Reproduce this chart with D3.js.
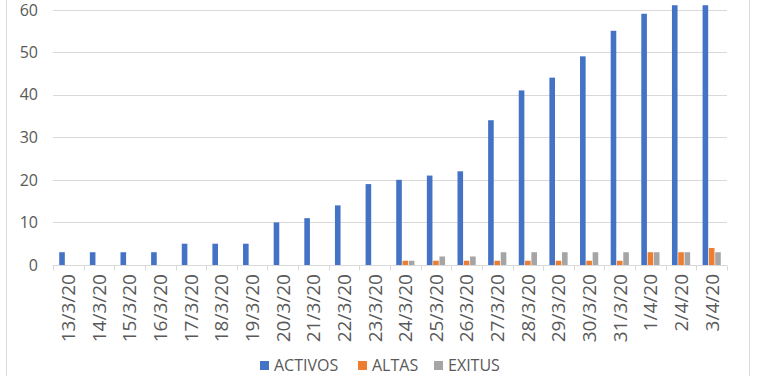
<!DOCTYPE html>
<html><head><meta charset="utf-8">
<script src="https://cdn.jsdelivr.net/npm/d3@7/dist/d3.min.js"></script>
<style>body{margin:0;background:#fff}svg{display:block}</style>
</head><body>
<script>
const categories = ["13/3/20","14/3/20","15/3/20","16/3/20","17/3/20","18/3/20","19/3/20","20/3/20","21/3/20","22/3/20","23/3/20","24/3/20","25/3/20","26/3/20","27/3/20","28/3/20","29/3/20","30/3/20","31/3/20","1/4/20","2/4/20","3/4/20"];
const seriesNames = ["ACTIVOS","ALTAS","EXITUS"];
const activos = [3,3,3,3,5,5,5,10,11,14,19,20,21,22,34,41,44,49,55,59,61,61];
const altas =   [0,0,0,0,0,0,0,0,0,0,0,1,1,1,1,1,1,1,1,3,3,4];
const exitus =  [0,0,0,0,0,0,0,0,0,0,0,1,2,2,3,3,3,3,3,3,3,3];
const yTicks = [0,10,20,30,40,50,60];
const colors = ["#4472C4","#ED7D31","#A5A5A5"];

const W = 761, H = 376;
const svg = d3.select("body").append("svg").attr("width", W).attr("height", H);
const font = "'Open Sans', sans-serif";
const textColor = "#595959";

// border (top/bottom cropped)
svg.append("line").attr("x1",6.5).attr("x2",6.5).attr("y1",0).attr("y2",H).attr("stroke","#D9D9D9");
svg.append("line").attr("x1",749.5).attr("x2",749.5).attr("y1",0).attr("y2",H).attr("stroke","#D9D9D9");

const left = 53, right = 727;
const y = d3.scaleLinear().domain([0,60]).range([265, 9.5]);
const x = d3.scaleBand().domain(categories).range([left, right]).padding(0);

// gridlines
svg.append("g").selectAll("line").data(yTicks.filter(d=>d>0)).join("line")
  .attr("x1", left).attr("x2", right)
  .attr("y1", d => Math.round(y(d))+0.5).attr("y2", d => Math.round(y(d))+0.5)
  .attr("stroke", "#D9D9D9").attr("stroke-width", 1);

// y labels
svg.append("g").selectAll("text").data(yTicks).join("text")
  .attr("x", 38).attr("y", d => y(d) + (d === 60 ? 0.5 : 0)).attr("dy","0.36em")
  .attr("text-anchor","end").attr("font-family",font).attr("font-size",16)
  .attr("fill",textColor).text(d=>d);

// bars
const data = [activos, altas, exitus];
const slot = 6.3, bw = 5.6;
const inner = d3.scaleBand().domain(seriesNames).range([0, slot*3]).padding(0);
const gBars = svg.append("g");
seriesNames.forEach((s, si) => {
  gBars.append("g").selectAll("rect").data(categories).join("rect")
    .attr("x", (c) => x(c) + x.bandwidth()/2 - slot*1.5 + inner(s) + (slot-bw)/2)
    .attr("width", bw)
    .attr("y", (c,i) => y(data[si][i]))
    .attr("height", (c,i) => y(0) - y(data[si][i]))
    .attr("fill", colors[si]);
});

// x axis
const axisY = Math.round(y(0)) + 0.5;
svg.append("line").attr("x1",left).attr("x2",right).attr("y1",axisY).attr("y2",axisY).attr("stroke","#D9D9D9");
const bounds = categories.map(c => x(c)).concat([right]);
svg.append("g").selectAll("line").data(bounds).join("line")
  .attr("x1", d=>Math.round(d)+0.5).attr("x2", d=>Math.round(d)+0.5)
  .attr("y1", axisY).attr("y2", axisY+5).attr("stroke","#D9D9D9");

svg.append("g").selectAll("text").data(categories).join("text")
  .attr("transform", c => `translate(${x(c)+x.bandwidth()/2},274) rotate(-90)`)
  .attr("text-anchor","end").attr("dy","0.36em")
  .attr("font-family",font).attr("font-size",19).attr("fill",textColor)
  .text(c=>c);

// legend
const legendItems = [{x:260, tx:274},{x:358, tx:372},{x:434, tx:448}];
seriesNames.forEach((s,i) => {
  svg.append("rect").attr("x", legendItems[i].x).attr("y", 361).attr("width",9).attr("height",9).attr("fill",colors[i]);
  svg.append("text").attr("x", legendItems[i].tx).attr("y", 365.5).attr("dy","0.36em")
    .attr("font-family",font).attr("font-size",16).attr("fill",textColor).text(s);
});
</script>
</body></html>
